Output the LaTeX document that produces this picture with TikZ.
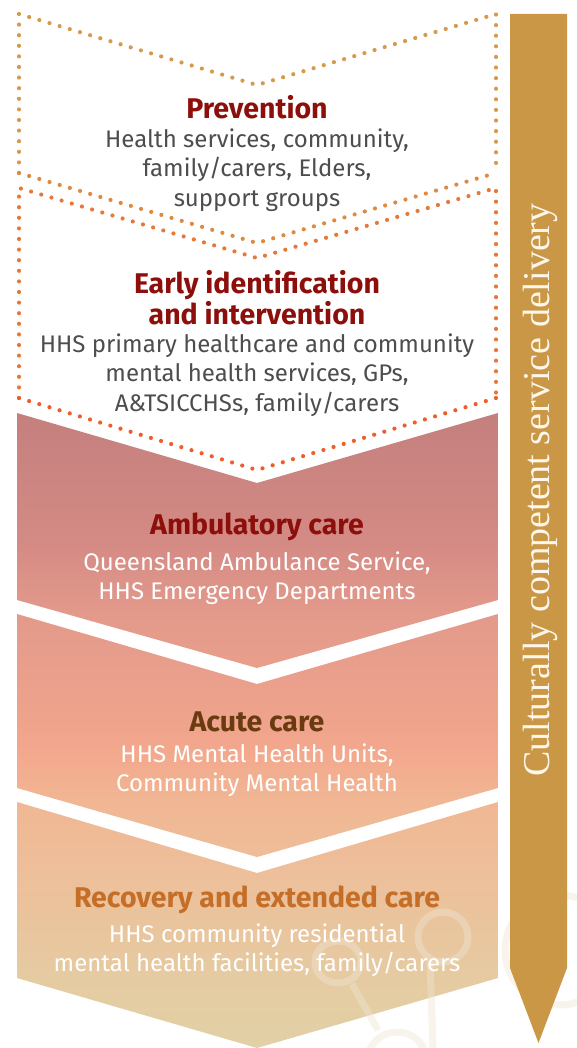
\documentclass[tikz,border=0pt]{standalone}
\usepackage{fontspec}
\newfontfamily\fira{Fira Sans}
\newfontfamily\vserif{Liberation Serif}
\definecolor{titlered}{HTML}{8C0F0B}
\definecolor{bodygray}{HTML}{4D4D4F}
\definecolor{acutebrown}{HTML}{6A3B10}
\definecolor{recorange}{HTML}{C56E27}
\definecolor{bargold}{HTML}{C99745}
\definecolor{bartext}{HTML}{FDF6EA}
\definecolor{dotA}{HTML}{D69A4C}
\definecolor{dotB}{HTML}{DF8A40}
\definecolor{dotC}{HTML}{E6793A}
\definecolor{dotD}{HTML}{EE5E2C}
\definecolor{wmark}{HTML}{EFE4D2}
\definecolor{s0}{HTML}{E2D0A6}
\definecolor{s1}{HTML}{E4CDA3}
\definecolor{s2}{HTML}{EBC29C}
\definecolor{s3}{HTML}{F1B794}
\definecolor{s4}{HTML}{F3AA8E}
\definecolor{s5}{HTML}{F0A48C}
\definecolor{s6}{HTML}{E39A8B}
\definecolor{s7}{HTML}{D48A84}
\definecolor{s8}{HTML}{C4807E}
\pgfdeclareverticalshading{chevshade}{100bp}{color(0bp)=(s0); color(25bp)=(s0); color(28.8bp)=(s1); color(36.65bp)=(s2); color(44.35bp)=(s3); color(47.7bp)=(s4); color(50bp)=(s5); color(59.15bp)=(s6); color(65bp)=(s7); color(75bp)=(s8); color(100bp)=(s8)}
\begin{document}
\begin{tikzpicture}[x=1pt,y=-1pt,
  dotline/.style={line width=4.2pt, line cap=round, dash pattern=on 0pt off 10.6pt},
  titletext/.style={font=\fira\bfseries\fontsize{28.5}{31}\selectfont, align=center, inner sep=0pt},
  bodytext/.style={font=\fira\fontsize{24}{29.5}\selectfont, align=center, inner sep=0pt},
  wm/.style={draw=wmark, line width=7pt, opacity=0.45}
]
\useasboundingbox (0,0) rectangle (576,1048);
% ---- filled chevrons
\begin{scope}
\clip (17,413) -- (257,483) -- (498,413) -- (498,600) -- (257,668) -- (17,600) -- cycle
      (17,614) -- (257,684) -- (498,614) -- (498,788) -- (257,857) -- (17,788) -- cycle
      (17,802) -- (257,873) -- (498,802) -- (498,978) -- (257,1048) -- (17,978) -- cycle;
\shade[shading=chevshade] (17,413) rectangle (498,1048);
\end{scope}
% ---- faint watermark
\draw[wm] (443,937) circle (25);
\draw[wm] (338,962) ellipse (23 and 21);
\draw[wm] (352,984) -- (378,1030);
\draw[wm] (430,962) -- (433,1048);
\draw[wm] (397,1062) circle (30);
\draw[wm] (560,950) circle (55);
% ---- dotted chevrons
\draw[dotline, dotA] (19,173) -- (19,14) -- (257,85) -- (496,14) -- (496,173);
\draw[dotline, dotB] (19,173) -- (257,243) -- (496,173);
\draw[dotline, dotC] (19,398) -- (19,188) -- (257,258) -- (496,188) -- (496,398);
\draw[dotline, dotD] (19,398) -- (257,470) -- (496,398);
% ---- side bar
\fill[bargold] (510,14) -- (567,14) -- (567,968) -- (538.5,1043) -- (510,968) -- cycle;
\node[rotate=90, text=bartext, font=\vserif\fontsize{38}{40}\selectfont, inner sep=0pt] (bar) at (540,490) {Culturally competent service delivery};
% ---- texts
\node[titletext, text=titlered] (prevT) at (257,107) {Prevention};
\node[bodytext, text=bodygray] (prevB) at (257,170) {Health services, community,\\family/carers, Elders,\\support groups};
\node[titletext, text=titlered] (earlyT) at (257,298) {Early identification\\and intervention};
\node[bodytext, text=bodygray] (earlyB) at (257,375) {HHS primary healthcare and community\\mental health services, GPs,\\A\&TSICCHSs, family/carers};
\node[titletext, text=titlered] (ambT) at (257,527) {Ambulatory care};
\node[bodytext, text=white] (ambB) at (257,578) {Queensland Ambulance Service,\\HHS Emergency Departments};
\node[titletext, text=acutebrown] (acuT) at (257,722) {Acute care};
\node[bodytext, text=white] (acuB) at (257,770) {HHS Mental Health Units,\\Community Mental Health};
\node[titletext, text=recorange] (recT) at (257,900) {Recovery and extended care};
\node[bodytext, text=white] (recB) at (257,950) {HHS community residential\\mental health facilities, family/carers};
\end{tikzpicture}
\end{document}
